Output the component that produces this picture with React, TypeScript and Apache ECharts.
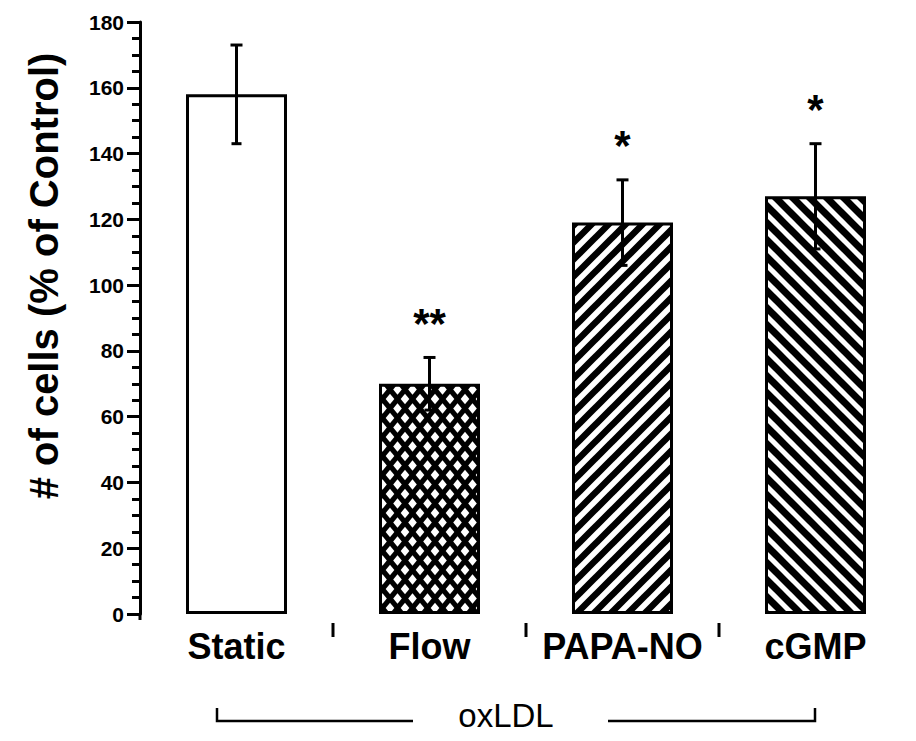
import React, { useEffect, useRef } from 'react';
import * as echarts from 'echarts';

const categories = ['Static', 'Flow', 'PAPA-NO', 'cGMP'];
const means = [158, 70, 119, 127];
const errors = [15, 8, 13, 16];
const significance = ['', '**', '*', '*'];
const yMin = 0;
const yMax = 180;
const yInterval = 20;
const yTitle = '# of cells (% of Control)';
const groupLabel = 'oxLDL';

const FONT = '"Liberation Sans", Arial, Helvetica, sans-serif';

function makeTile(w: number, h: number, draw: (ctx: CanvasRenderingContext2D) => void) {
  const c = document.createElement('canvas');
  c.width = w;
  c.height = h;
  const ctx = c.getContext('2d') as CanvasRenderingContext2D;
  draw(ctx);
  return { image: c.toDataURL(), repeat: 'repeat', imageWidth: w, imageHeight: h } as any;
}

function crossHatch() {
  const w = 15, h = 19, hw = 4.3, hh = 5.3;
  return makeTile(w, h, (ctx) => {
    ctx.fillStyle = '#000';
    ctx.fillRect(0, 0, w, h);
    ctx.fillStyle = '#fff';
    const centers = [[w / 2, h / 2], [0, 0], [w, 0], [0, h], [w, h]];
    for (const [cx, cy] of centers) {
      ctx.beginPath();
      ctx.moveTo(cx, cy - hh);
      ctx.lineTo(cx + hw, cy);
      ctx.lineTo(cx, cy + hh);
      ctx.lineTo(cx - hw, cy);
      ctx.closePath();
      ctx.fill();
    }
  });
}

function stripes(forward: boolean, s: number, lw: number) {
  return makeTile(s, s, (ctx) => {
    ctx.fillStyle = '#fff';
    ctx.fillRect(0, 0, s, s);
    ctx.strokeStyle = '#000';
    ctx.lineWidth = lw;
    ctx.lineCap = 'square';
    for (const c of [-s, 0, s, 2 * s]) {
      ctx.beginPath();
      if (forward) {
        ctx.moveTo(c, 0);
        ctx.lineTo(c - s, s);
      } else {
        ctx.moveTo(c, 0);
        ctx.lineTo(c + s, s);
      }
      ctx.stroke();
    }
  });
}

export default function App() {
  const ref = useRef<HTMLDivElement>(null);
  useEffect(() => {
    if (!ref.current) return;
    const chart = echarts.init(ref.current, undefined, { renderer: 'svg' });
    const fills = ['#fff', crossHatch(), stripes(true, 17, 6.5), stripes(false, 17, 7)];

    const option: any = {
      animation: false,
      backgroundColor: '#fff',
      grid: { left: 140, right: 4, top: 22, bottom: 127, outerBoundsMode: 'none', containLabel: false },
      xAxis: {
        type: 'category',
        data: categories,
        axisLine: { show: false },
        axisTick: { show: false },
        axisLabel: {
          interval: 0,
          color: '#000',
          fontFamily: FONT,
          fontWeight: 'bold',
          fontSize: 36,
          lineHeight: 36,
          margin: 14,
        },
        splitLine: { show: false },
      },
      yAxis: {
        type: 'value',
        min: yMin,
        max: yMax,
        interval: yInterval,
        axisLine: { show: true, lineStyle: { color: '#000', width: 3 } },
        axisTick: { show: true, length: 13, lineStyle: { color: '#000', width: 3 } },
        minorTick: { show: true, splitNumber: 4, length: 8, lineStyle: { color: '#000', width: 3 } },
        axisLabel: { color: '#000', fontFamily: FONT, fontWeight: 'bold', fontSize: 21, margin: 16 },
        splitLine: { show: false },
      },
      graphic: [
        {
          type: 'text',
          x: 44,
          y: 276,
          rotation: Math.PI / 2,
          style: {
            text: yTitle,
            fill: '#000',
            fontFamily: FONT,
            fontWeight: 'bold',
            fontSize: 40,
            align: 'center',
            verticalAlign: 'middle',
          },
        },
        {
          type: 'text',
          x: 506,
          y: 715,
          style: {
            text: groupLabel,
            fill: '#000',
            fontFamily: FONT,
            fontSize: 33,
            align: 'center',
            verticalAlign: 'middle',
          },
        },
        {
          type: 'polyline',
          shape: { points: [[217, 708], [217, 721], [413, 721]] },
          style: { stroke: '#000', lineWidth: 2.5, fill: null },
        },
        {
          type: 'polyline',
          shape: { points: [[608, 721], [815, 721], [815, 708]] },
          style: { stroke: '#000', lineWidth: 2.5, fill: null },
        },
      ],
      series: [
        {
          type: 'bar',
          barWidth: 101,
          data: means.map((v, i) => ({
            value: v,
            itemStyle: { color: fills[i], borderColor: '#000', borderWidth: 3 },
          })),
          z: 2,
        },
        {
          type: 'custom',
          z: 5,
          data: means.map((m, i) => [i, m, errors[i]]),
          renderItem: (params: any, api: any) => {
            const i = api.value(0);
            const m = api.value(1);
            const e = api.value(2);
            const top = api.coord([i, m + e]);
            const bot = api.coord([i, m - e]);
            const base = api.coord([i, 0]);
            const band = api.size([1, 0])[0];
            const x = top[0];
            const line = (x1: number, y1: number, x2: number, y2: number, w = 3) => ({
              type: 'line',
              shape: { x1, y1, x2, y2 },
              style: { stroke: '#000', lineWidth: w },
            });
            const children: any[] = [
              line(x, top[1], x, bot[1]),
              line(x - 6, top[1], x + 6, top[1]),
              line(x - 5, bot[1], x + 5, bot[1]),
            ];
            const sig = significance[params.dataIndex];
            if (sig) {
              children.push({
                type: 'text',
                x,
                y: top[1] - 34,
                style: {
                  text: sig,
                  fill: '#000',
                  fontFamily: FONT,
                  fontWeight: 'bold',
                  fontSize: 42,
                  align: 'center',
                  verticalAlign: 'middle',
                },
              });
            }
            if (params.dataIndex < categories.length - 1) {
              const bx = x + band / 2;
              children.push(line(bx, base[1] + 9, bx, base[1] + 23, 3));
            }
            if (params.dataIndex === 0) {
              const lx = x - band / 2;
              children.push(line(lx, base[1], lx, base[1] + 6, 3));
            }
            return { type: 'group', children };
          },
        },
      ],
    };
    chart.setOption(option);
    return () => chart.dispose();
  }, []);
  return (
    <div
      ref={ref}
      style={{ position: 'fixed', left: 0, top: 0, width: 916, height: 741, background: '#fff' }}
    />
  );
}
